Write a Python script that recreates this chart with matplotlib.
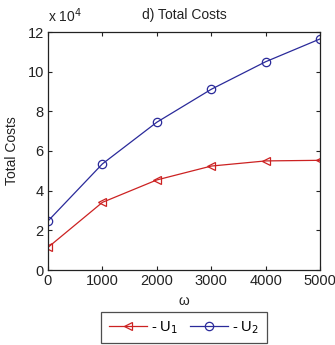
import matplotlib
matplotlib.use("Agg")
import matplotlib.pyplot as plt

plt.rcParams['font.family'] = ['Liberation Sans', 'DejaVu Sans']

omega = [0, 1000, 2000, 3000, 4000, 5000]
u1_costs = [1.14, 3.41, 4.54, 5.24, 5.50, 5.53]   # x 10^4
u2_costs = [2.47, 5.35, 7.45, 9.11, 10.50, 11.65]  # x 10^4
x_ticks = [0, 1000, 2000, 3000, 4000, 5000]
y_ticks = [0, 2, 4, 6, 8, 10, 12]

fig = plt.figure(figsize=(3.35, 3.45), dpi=100)
ax = fig.add_axes([48/335, 1 - 270/345, (320 - 48)/335, (270 - 32)/345])

l1, = ax.plot(omega, u1_costs, color='#cc2222', lw=0.9, marker='<',
              markersize=5.5, markerfacecolor='none', markeredgecolor='#cc2222',
              markeredgewidth=0.9, label='- U$_1$')
l2, = ax.plot(omega, u2_costs, color='#2a2a9a', lw=0.9, marker='o',
              markersize=6, markerfacecolor='none', markeredgecolor='#2a2a9a',
              markeredgewidth=0.9, label='- U$_2$')

ax.set_xlim(0, 5000)
ax.set_ylim(0, 12)
ax.set_xticks(x_ticks)
ax.set_yticks(y_ticks)
ax.tick_params(direction='in', top=True, right=True, labelsize=10.5,
               length=3, width=0.8, colors='#222222', pad=3)
for s in ax.spines.values():
    s.set_linewidth(0.9)
    s.set_color('#222222')

ax.set_title('d) Total Costs', fontsize=10, pad=9, color='#222222')
ax.text(0.0, 1.03, 'x 10$^4$', transform=ax.transAxes, fontsize=10,
        ha='left', va='bottom', color='#222222')
ax.set_xlabel('ω', fontsize=10, labelpad=4, color='#222222')
ax.set_ylabel('Total Costs', fontsize=10, labelpad=6, color='#222222')

leg = fig.legend(handles=[l1, l2], loc='upper center',
                 bbox_to_anchor=(184/335, 1 - 312/345), ncol=2,
                 fontsize=10.5, frameon=True, fancybox=False,
                 edgecolor='#222222', handlelength=2.6, columnspacing=0.8,
                 handletextpad=0.3, borderpad=0.5, borderaxespad=0)
leg.get_frame().set_linewidth(0.9)

fig.savefig('out.png', dpi=100)
